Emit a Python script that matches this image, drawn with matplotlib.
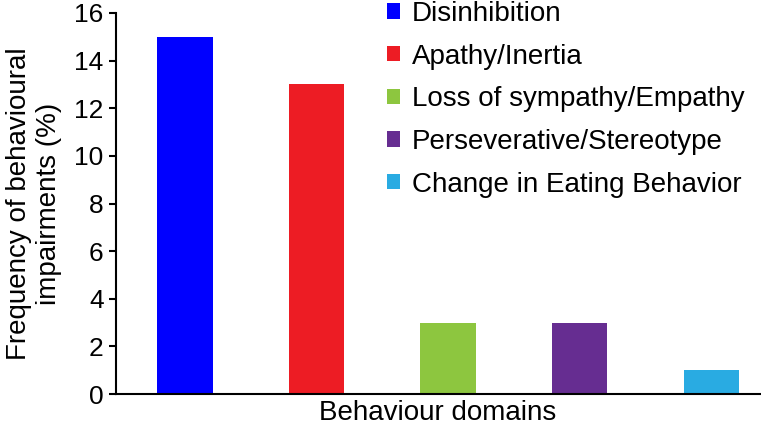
import matplotlib
matplotlib.use('Agg')
from matplotlib import pyplot as plt

# data
domains = ['Disinhibition', 'Apathy/Inertia', 'Loss of sympathy/Empathy',
           'Perseverative/Stereotype', 'Change in Eating Behavior']
freq = [15, 13, 3, 3, 1]
colors = ['#0000FF', '#ED1C24', '#8DC63F', '#662D91', '#29ABE2']

plt.rcParams['font.family'] = ['Liberation Sans', 'DejaVu Sans']

fig = plt.figure(figsize=(7.61, 4.28), dpi=100)
ax = fig.add_axes([116/761, 1 - 394/428, 644/761, 381/428])

positions = list(range(len(freq)))
bars = ax.bar(positions, freq, width=0.42, color=colors, label=domains)

ax.set_xlim(-0.524, 4.37)
ax.set_ylim(0, 16)
ax.set_yticks(range(0, 17, 2))
ax.set_xticks([])

for side in ['top', 'right']:
    ax.spines[side].set_visible(False)
ax.spines['left'].set_linewidth(1.5)
ax.spines['bottom'].set_linewidth(1.5)
ax.tick_params(axis='y', direction='out', length=5, width=1.5,
               labelsize=19, pad=4)

ax.set_xlabel('Behaviour domains', fontsize=20, labelpad=4)
ax.set_ylabel('Frequency of behavioural\nimpairments (%)', fontsize=20,
              linespacing=1.2, labelpad=9)

fig.legend(handles=list(bars), labels=domains, loc='upper left',
           bbox_to_anchor=(387/761, 1 - 1/428), frameon=False,
           fontsize=20, handlelength=0.47, handleheight=0.47,
           handletextpad=0.43, labelspacing=0.6,
           borderpad=0, borderaxespad=0)

plt.savefig('out.png', dpi=100)
